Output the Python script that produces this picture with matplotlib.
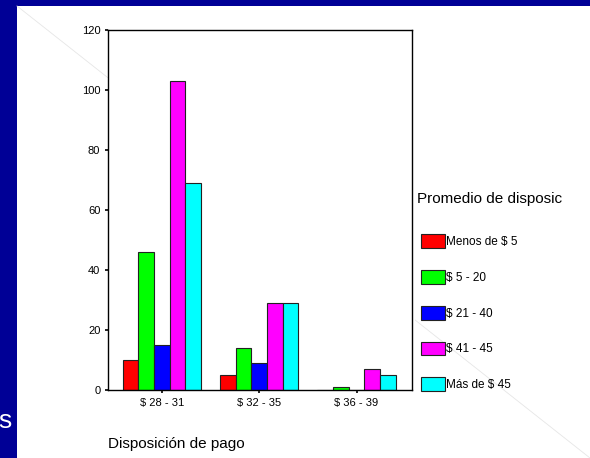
import matplotlib
matplotlib.use("Agg")
import matplotlib.pyplot as plt
import numpy as np
from matplotlib.lines import Line2D
from matplotlib.patches import Rectangle

plt.rcParams["font.family"] = ["Liberation Sans", "DejaVu Sans"]

categories = ["$ 28 - 31", "$ 32 - 35", "$ 36 - 39"]
series_names = ["Menos de $ 5", "$ 5 - 20", "$ 21 - 40", "$ 41 - 45", "Más de $ 45"]
menos_5 = [10, 5, 0]
de_5_20 = [46, 14, 1]
de_21_40 = [15, 9, 0]
de_41_45 = [103, 29, 7]
mas_45 = [69, 29, 5]
series = [menos_5, de_5_20, de_21_40, de_41_45, mas_45]
colors = ["#ff0000", "#00ff00", "#0000ff", "#ff00ff", "#00ffff"]

W, H = 590, 458
fig = plt.figure(figsize=(W / 100, H / 100), dpi=100)
fig.patch.set_facecolor("white")

def fx(x):
    return x / W

def fy(y):
    return 1 - y / H

# slide frame
navy = "#000096"
fig.patches.append(Rectangle((0, 0), fx(17), 1, transform=fig.transFigure,
                             facecolor=navy, edgecolor="none", zorder=-2))
fig.patches.append(Rectangle((0, fy(6)), 1, 6 / H, transform=fig.transFigure,
                             facecolor=navy, edgecolor="none", zorder=-2))
# faint diagonal decoration behind the chart
fig.lines.append(Line2D([fx(17), fx(590)], [fy(6), fy(458)],
                        transform=fig.transFigure, color="#e6e6e6", lw=0.6,
                        zorder=-1))
fig.patches.append(Rectangle((fx(100), fy(323)), fx(415) - fx(100), fy(78) - fy(323),
                             transform=fig.transFigure, facecolor="white",
                             edgecolor="none", zorder=-0.5))
fig.text(fx(-1.5), fy(421), "s", color="white", fontsize=19, va="center", ha="left")

ax = fig.add_axes([fx(108), fy(390), (411.5 - 108) / W, 360 / H])
x = np.arange(len(categories))
bw = 0.161
for i, (vals, name, c) in enumerate(zip(series, series_names, colors)):
    ax.bar(x + (i - 2) * bw, vals, bw, color=c, edgecolor="#222222",
           linewidth=0.8, label=name, zorder=2)

ax.set_xlim(-0.555, 2.565)
ax.set_ylim(0, 120)
ax.set_yticks(range(0, 121, 20))
ax.set_xticks(x)
ax.set_xticklabels(categories)
ax.tick_params(axis="both", direction="out", length=2.5, width=1.2,
               labelsize=8, pad=3)
for s in ax.spines.values():
    s.set_linewidth(1.0)

fig.text(fx(108), fy(444), "Disposición de pago", fontsize=11, va="center", ha="left")
fig.text(fx(417), fy(199), "Promedio de disposic", fontsize=11, va="center", ha="left")

leg = ax.legend(loc="upper left", bbox_to_anchor=(fx(421), fy(234.5)),
                bbox_transform=fig.transFigure, frameon=False, fontsize=8.5,
                handlelength=2.03, handleheight=1.4, labelspacing=1.86,
                handletextpad=0.1, borderpad=0, borderaxespad=0)

fig.savefig("out.png", dpi=100)
